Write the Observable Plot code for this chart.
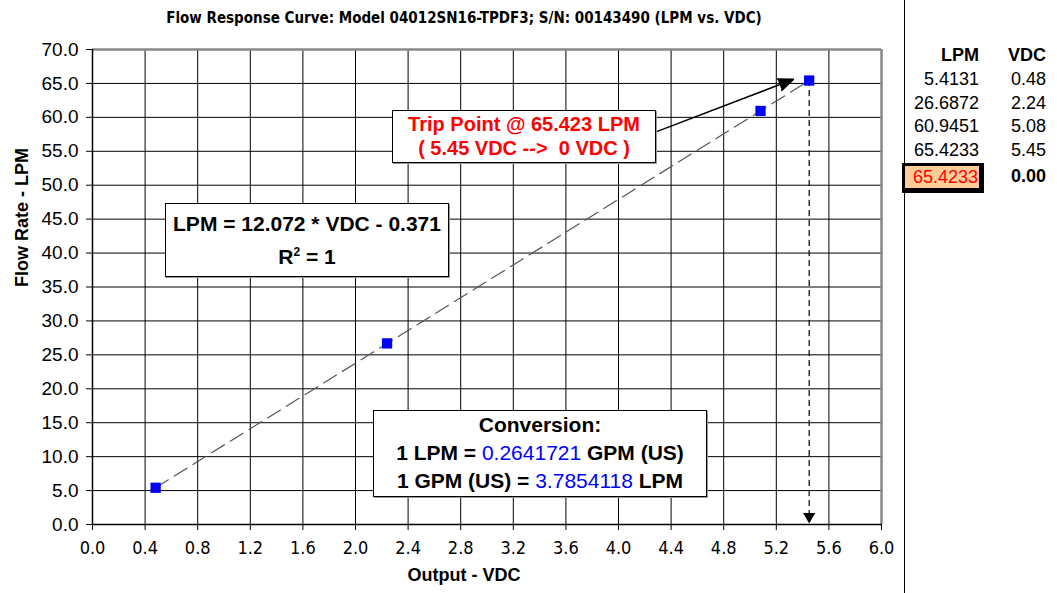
<!DOCTYPE html>
<html>
<head>
<meta charset="utf-8">
<script src="https://cdn.jsdelivr.net/npm/d3@7"></script>
<script src="https://cdn.jsdelivr.net/npm/@observablehq/plot@0.6"></script>
<style>
  html, body { margin: 0; padding: 0; background: #fff; }
  #wrap { position: relative; width: 1057px; height: 593px; overflow: hidden; font-family: Arial, "Liberation Sans", sans-serif; background: #fff; }
  #title { position: absolute; left: 0; width: 928px; top: 9px; text-align: center; font-weight: bold; font-size: 15px; font-family: "Liberation Sans Narrow", "DejaVu Sans Condensed", Arial, sans-serif; white-space: nowrap; z-index: 5; }
  #chart { position: absolute; left: 0; top: 0; }
  #divider { position: absolute; left: 904px; top: 0; width: 1px; height: 593px; background: #000; }
  .box { position: absolute; background: #fff; border: 1.5px solid #000; box-shadow: 1px 1px 0 #999; text-align: center; font-weight: bold; white-space: nowrap; box-sizing: border-box; }
  .blue { color: #0000ff; font-weight: normal; }
  #table { position: absolute; left: 905px; top: 44px; width: 152px; height: 200px; font-size: 18px; }
  .cell { position: absolute; text-align: right; height: 23.5px; line-height: 23.5px; white-space: nowrap; }
  g[aria-label="x-axis tick label"] text { font-family: "Liberation Sans Narrow", "DejaVu Sans Condensed", Arial, sans-serif; }
</style>
</head>
<body>
<div id="wrap">
  <div id="chart"></div>
  <div id="title"></div>
  <div id="divider"></div>
  <div id="table"></div>
</div>
<script>
// ---- data ----
const titleText = "Flow Response Curve: Model 04012SN16-TPDF3; S/N: 00143490 (LPM vs. VDC)";
const vdc = [0.48, 2.24, 5.08, 5.45];
const lpm = [5.4131, 26.6872, 60.9451, 65.4233];
const xTicks = [0, 0.4, 0.8, 1.2, 1.6, 2.0, 2.4, 2.8, 3.2, 3.6, 4.0, 4.4, 4.8, 5.2, 5.6, 6.0];
const yTicks = [0, 5, 10, 15, 20, 25, 30, 35, 40, 45, 50, 55, 60, 65, 70];
const xLabel = "Output - VDC";
const yLabel = "Flow Rate - LPM";
// trip point: 5.45 VDC drops to 0 VDC (vertical dashed arrow to the axis)
const tripVdc = [5.45];
const tripLpm = [65.4233];
const tripDropTo = [0];
// annotation arrow from the Trip Point box to the trip point (data units)
const annoFromX = [4.29];
const annoFromY = [57.9];
const annoToX = [5.33];
const annoToY = [65.6];
// table
const tableLpm = ["5.4131", "26.6872", "60.9451", "65.4233"];
const tableVdc = ["0.48", "2.24", "5.08", "5.45"];
const tripTableLpm = "65.4233";
const tripTableVdc = "0.00";

const points = vdc.map((v, i) => ({vdc: v, lpm: lpm[i]}));
const trip = tripVdc.map((v, i) => ({x: v, y1: tripLpm[i], y2: tripDropTo[i]}));
const anno = annoFromX.map((v, i) => ({x1: v, y1: annoFromY[i], x2: annoToX[i], y2: annoToY[i]}));

document.getElementById("title").textContent = titleText;

const W = 900, H = 593;
const plot = Plot.plot({
  width: W,
  height: H,
  marginLeft: 92,
  marginRight: 19,
  marginTop: 49,
  marginBottom: 69,
  style: {fontFamily: "Arial, 'Liberation Sans', sans-serif", background: "transparent", overflow: "visible"},
  x: {domain: [0, 6]},
  y: {domain: [0, 70]},
  marks: [
    Plot.gridX(xTicks, {stroke: "#000", strokeOpacity: 1, strokeWidth: 1}),
    Plot.gridY(yTicks, {stroke: "#000", strokeOpacity: 1, strokeWidth: 1}),
    Plot.ruleY([70], {stroke: "#888", strokeWidth: 2.5}),
    Plot.ruleX([6], {stroke: "#888", strokeWidth: 2.5}),
    Plot.ruleX([0], {stroke: "#000", strokeWidth: 1.5}),
    Plot.ruleY([0], {stroke: "#000", strokeWidth: 1.5}),
    Plot.axisX({ticks: xTicks, tickFormat: d3.format(".1f"), tickSize: 6, tickPadding: 11, fontSize: 18, label: null}),
    Plot.axisY({ticks: yTicks, tickFormat: d3.format(".1f"), tickSize: 6, tickPadding: 8, fontSize: 19, label: null}),
    Plot.text([xLabel], {frameAnchor: "bottom", dx: -23, dy: 56, fontSize: 18, fontWeight: "bold"}),
    Plot.text([yLabel], {frameAnchor: "left", dx: -70, rotate: -90, fontSize: 18, fontWeight: "bold"}),
    Plot.linearRegressionY(points, {x: "vdc", y: "lpm", stroke: "#555", strokeWidth: 1.2, strokeDasharray: "15,7", ci: 0}),
    Plot.ruleX(trip, {x: "x", y1: "y1", y2: "y2", stroke: "#000", strokeWidth: 1.2, strokeDasharray: "6,4", insetBottom: 10}),
    Plot.dot(trip, {x: "x", y: "y2", symbol: "triangle", r: 4.5, fill: "#000", stroke: "none", rotate: 180, dy: -8}),
    Plot.arrow(anno, {x1: "x1", y1: "y1", x2: "x2", y2: "y2", stroke: "#000", fill: "#000", strokeWidth: 1.5, headLength: 16, headAngle: 45, bend: 0}),
    Plot.dot(points, {x: "vdc", y: "lpm", symbol: "square", r: 5.8, fill: "#0000ff", stroke: "none"})
  ]
});
document.getElementById("chart").appendChild(plot);

// ---- annotation boxes (HTML overlays) ----
const wrap = document.getElementById("wrap");
function box(left, top, w, h, html, style) {
  const d = document.createElement("div");
  d.className = "box";
  Object.assign(d.style, {left: left + "px", top: top + "px", width: w + "px", height: h + "px"}, style || {});
  d.innerHTML = html;
  wrap.appendChild(d);
}
box(392, 110, 264, 53,
  "Trip Point @ 65.423 LPM<br>( 5.45 VDC --&gt;&nbsp; 0 VDC )",
  {color: "#ff0000", fontSize: "20px", lineHeight: "24px", paddingTop: "1px"});
box(165, 203, 284, 74,
  "LPM = 12.072 * VDC - 0.371<br>R<sup style='font-size:12px;vertical-align:8px;line-height:0'>2</sup> = 1",
  {color: "#000", fontSize: "21px", lineHeight: "33px", paddingTop: "3px"});
box(373, 410, 334, 87,
  "Conversion:<br>1 LPM = <span class='blue'>0.2641721</span> GPM (US)<br>1 GPM (US) = <span class='blue'>3.7854118</span> LPM",
  {color: "#000", fontSize: "21px", lineHeight: "28px", paddingTop: "0px"});

// ---- data table on the right ----
const table = document.getElementById("table");
function cell(text, rightEdge, top, extra) {
  const d = document.createElement("div");
  d.className = "cell";
  d.textContent = text;
  Object.assign(d.style, {right: (152 - rightEdge) + "px", top: top + "px"}, extra || {});
  table.appendChild(d);
}
const lpmRight = 74, vdcRight = 141, rowH = 23.5;
cell("LPM", lpmRight, 0, {fontWeight: "bold"});
cell("VDC", vdcRight, 0, {fontWeight: "bold"});
tableLpm.forEach((t, i) => cell(t, lpmRight, 24 + i * rowH));
tableVdc.forEach((t, i) => cell(t, vdcRight, 24 + i * rowH));
const hl = document.createElement("div");
Object.assign(hl.style, {position: "absolute", left: "-3px", top: "119px", width: "73px", height: "22px",
  background: "#ffcc99", borderTop: "3px solid #000", borderLeft: "3px solid #000", borderRight: "5px solid #000", borderBottom: "5px solid #000",
  color: "#ff0000", textAlign: "right", lineHeight: "22px", paddingRight: "1px", boxSizing: "content-box"});
hl.textContent = tripTableLpm;
table.appendChild(hl);
cell(tripTableVdc, vdcRight, 121, {fontWeight: "bold"});
</script>
</body>
</html>
